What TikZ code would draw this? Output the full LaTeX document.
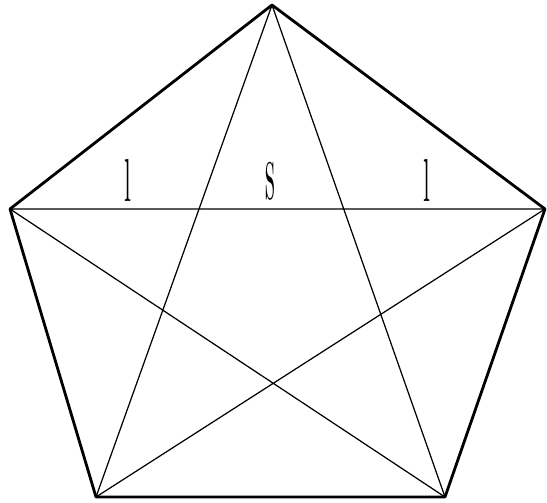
\documentclass[tikz,border=0pt]{standalone}
\usepackage{tikz}
\usetikzlibrary{calc}
\tikzset{
  side/.style={line width=1.6pt,line join=round},
  diag/.style={line width=0.7pt},
  lbl/.style={font=\Large,inner sep=0pt,anchor=south}
}
\newcommand{\tallglyph}[2]{\scalebox{1}[#1]{#2}}

\begin{document}
\begin{tikzpicture}[x=0.02cm,y=-0.02cm]
  \useasboundingbox (0,0) rectangle (547,503);
  \coordinate (A) at (272,5);
  \coordinate (B) at (545,209);
  \coordinate (C) at (445,497);
  \coordinate (D) at (96,497);
  \coordinate (E) at (10,209);
  \draw[side] (A)--(B)--(C)--(D)--(E)--cycle;
  \draw[diag] (A)--(C) (A)--(D) (B)--(D) (B)--(E) (C)--(E);
  % labels above the long diagonal
  \node[lbl] (l1) at (128,202) {\tallglyph{2.4}{l}};
  \node[lbl] (s) at (270,201) {\tallglyph{3.3}{s}};
  \node[lbl] (l2) at (427,202) {\tallglyph{2.4}{l}};
\end{tikzpicture}
\end{document}
